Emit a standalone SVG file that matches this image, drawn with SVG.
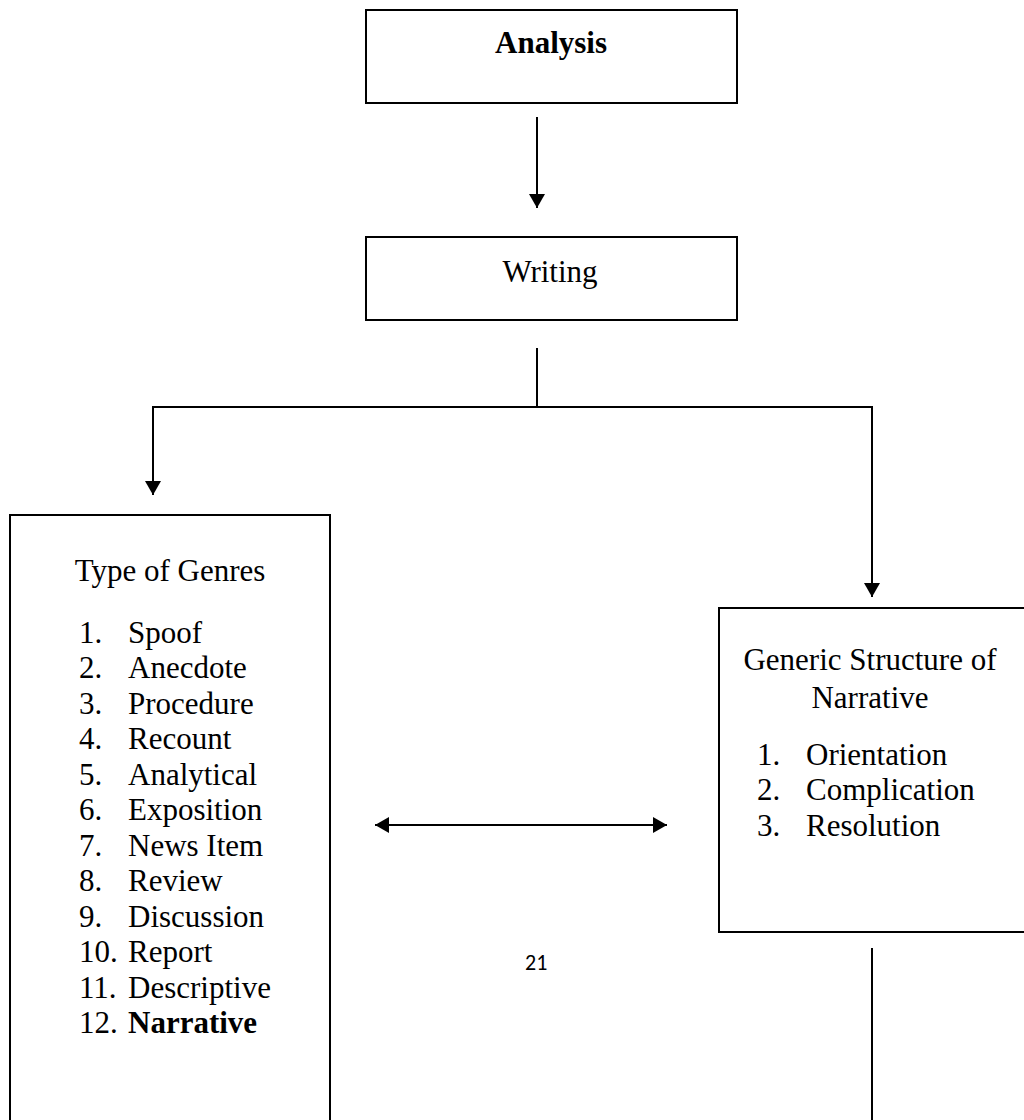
<svg xmlns="http://www.w3.org/2000/svg" width="1024" height="1120" viewBox="0 0 1024 1120">
<style>
.box{fill:#fff;stroke:#000;stroke-width:2}
.t{font-family:"Liberation Serif","Times New Roman",serif;font-size:31px;fill:#000}
.b{font-weight:bold}
.c{text-anchor:middle}
.ln{stroke:#000;stroke-width:2;fill:none}
.pg{font-family:"Carlito","Liberation Sans",Arial,sans-serif;font-size:22px;fill:#000}
</style>
<defs>
<marker id="ah" viewBox="0 0 14 16" refX="14" refY="8" markerWidth="14" markerHeight="16" markerUnits="userSpaceOnUse" orient="auto-start-reverse">
<path d="M0,0 L14,8 L0,16 Z" fill="#000"/>
</marker>
</defs>
<rect width="1024" height="1120" fill="#fff"/>
<g id="connectors">
<line class="ln" x1="537" y1="117" x2="537" y2="208" marker-end="url(#ah)"/>
<polyline class="ln" points="537,348 537,407"/>
<polyline class="ln" points="153,495 153,407 872,407 872,597" marker-start="url(#ah)" marker-end="url(#ah)"/>
<line class="ln" x1="375" y1="825" x2="667" y2="825" marker-start="url(#ah)" marker-end="url(#ah)"/>
<line class="ln" x1="872" y1="948" x2="872" y2="1120"/>
</g>
<g id="analysis">
<rect class="box" x="366" y="10" width="371" height="93"/>
<text class="t b c" x="551" y="53">Analysis</text>
</g>
<g id="writing">
<rect class="box" x="366" y="237" width="371" height="83"/>
<text class="t c" x="550" y="282">Writing</text>
</g>
<g id="genres">
<rect class="box" x="10" y="515" width="320" height="640"/>
<text class="t c" x="170" y="581">Type of Genres</text>
<text class="t" x="79" y="643">1.</text><text class="t" x="128" y="643">Spoof</text>
<text class="t" x="79" y="678">2.</text><text class="t" x="128" y="678">Anecdote</text>
<text class="t" x="79" y="714">3.</text><text class="t" x="128" y="714">Procedure</text>
<text class="t" x="79" y="749">4.</text><text class="t" x="128" y="749">Recount</text>
<text class="t" x="79" y="785">5.</text><text class="t" x="128" y="785">Analytical</text>
<text class="t" x="79" y="820">6.</text><text class="t" x="128" y="820">Exposition</text>
<text class="t" x="79" y="856">7.</text><text class="t" x="128" y="856">News Item</text>
<text class="t" x="79" y="891">8.</text><text class="t" x="128" y="891">Review</text>
<text class="t" x="79" y="927">9.</text><text class="t" x="128" y="927">Discussion</text>
<text class="t" x="79" y="962">10.</text><text class="t" x="128" y="962">Report</text>
<text class="t" x="79" y="998">11.</text><text class="t" x="128" y="998">Descriptive</text>
<text class="t" x="79" y="1033">12.</text><text class="t b" x="128" y="1033">Narrative</text>
</g>
<g id="generic">
<rect class="box" x="719" y="608" width="320" height="324"/>
<text class="t c" x="870" y="670">Generic Structure of</text>
<text class="t c" x="870" y="708">Narrative</text>
<text class="t" x="757" y="765">1.</text><text class="t" x="806" y="765">Orientation</text>
<text class="t" x="757" y="800">2.</text><text class="t" x="806" y="800">Complication</text>
<text class="t" x="757" y="836">3.</text><text class="t" x="806" y="836">Resolution</text>
</g>
<text class="pg" x="525" y="970">21</text>
</svg>
